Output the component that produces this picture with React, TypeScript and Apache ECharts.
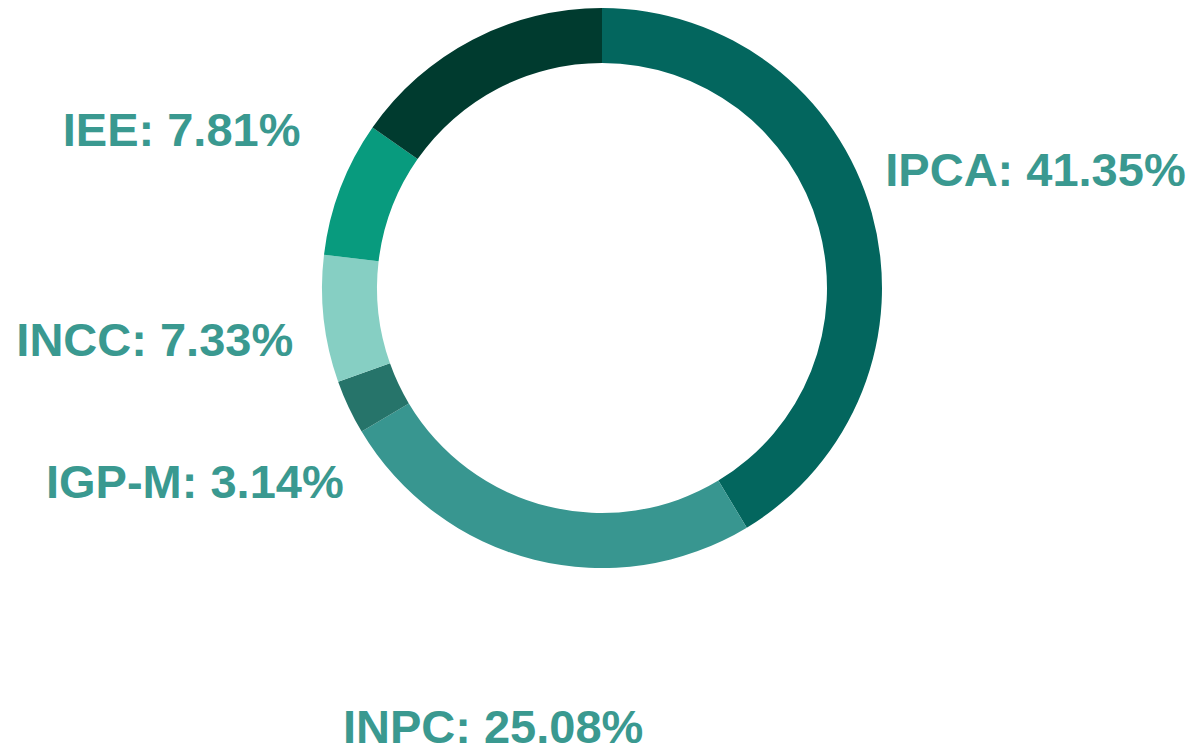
import React, { useEffect, useRef } from "react";
import * as echarts from "echarts";

const categories = ["IPCA", "INPC", "IGP-M", "INCC", "IEE", "Outros"];
const values = [41.35, 25.08, 3.14, 7.33, 7.81, 15.29];
const colors = ["#03665e", "#389690", "#26746a", "#86cfc3", "#089b7e", "#003b2f"];
const showLabel = [true, true, true, true, true, false];

export default function App() {
  const ref = useRef<HTMLDivElement>(null);
  useEffect(() => {
    if (!ref.current) return;
    const chart = echarts.init(ref.current, undefined, { renderer: "svg" });
    const cx = 602;
    const cy = 288;
    const labelR = 450;
    const total = values.reduce((a, b) => a + b, 0);
    chart.setOption({
      animation: false,
      series: [
        {
          type: "pie",
          center: [cx, cy],
          radius: [225, 280],
          startAngle: 90,
          clockwise: true,
          avoidLabelOverlap: false,
          labelLine: { show: false },
          label: {
            show: true,
            position: "outside",
            color: "#3a9990",
            fontFamily: "Liberation Sans, Arial, sans-serif",
            fontWeight: "bold",
            fontSize: 47,
            lineHeight: 50,
            formatter: (p: any) => `${p.name}: ${Number(p.value).toFixed(2)}%`,
          },
          labelLayout: (p: any) => {
            const i = p.dataIndex;
            let before = 0;
            for (let k = 0; k < i; k++) before += values[k];
            const mid = ((before + values[i] / 2) / total) * Math.PI * 2;
            return {
              x: cx + labelR * Math.sin(mid),
              y: cy - labelR * Math.cos(mid) + 2,
              align: "center",
              verticalAlign: "middle",
            };
          },
          data: categories.map((name, i) => ({
            name,
            value: values[i],
            itemStyle: { color: colors[i] },
            label: { show: showLabel[i] },
          })),
        },
      ],
    });
    return () => chart.dispose();
  }, []);
  return (
    <div
      ref={ref}
      style={{ position: "absolute", left: 0, top: 0, width: 1188, height: 746 }}
    />
  );
}
